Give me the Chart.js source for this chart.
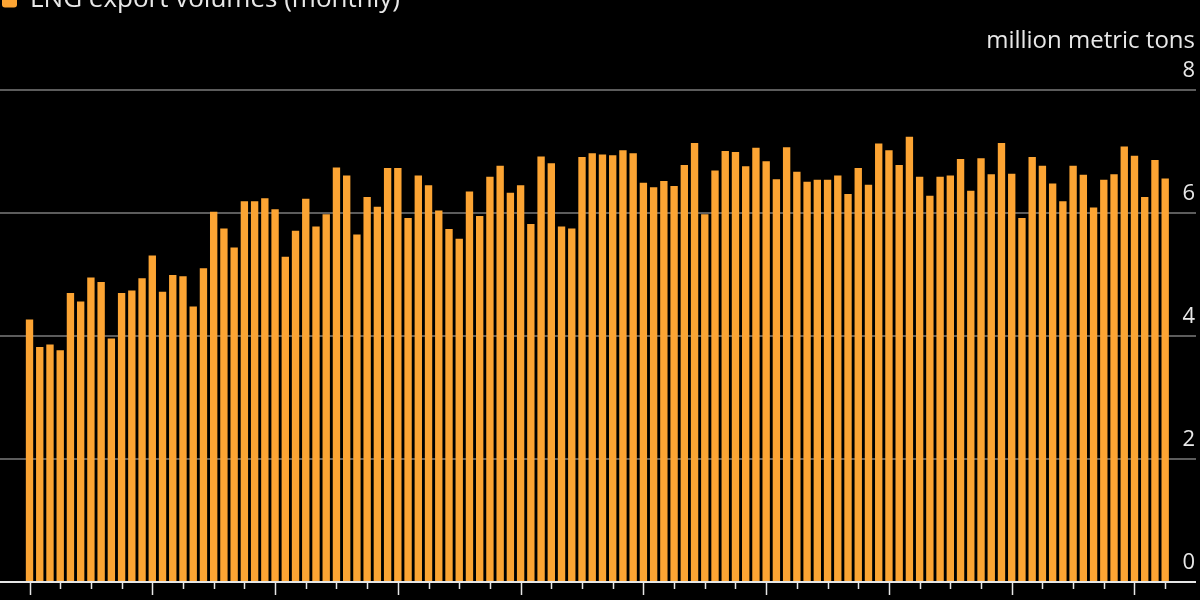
<!DOCTYPE html>
<html>
<head>
<meta charset="utf-8">
<script src="https://cdn.jsdelivr.net/npm/chart.js@4.4.1/dist/chart.umd.min.js"></script>
<style>
  html, body { margin: 0; padding: 0; background: #000; overflow: hidden; width: 1200px; height: 600px; }
  #wrap { position: absolute; left: 0; top: -15px; width: 1200px; height: 623px; }
</style>
</head>
<body>
<div id="wrap"><canvas id="c" width="1200" height="623"></canvas></div>
<script>
// LNG export volumes, million metric tons, monthly (112 months)
const volumes = [
  4.27, 3.82, 3.86, 3.77, 4.70, 4.56, 4.95, 4.88, 3.96, 4.70, 4.74, 4.94,
  5.31, 4.72, 4.99, 4.97, 4.48, 5.10, 6.02, 5.75, 5.44, 6.19, 6.19, 6.24,
  6.06, 5.29, 5.71, 6.23, 5.78, 5.98, 6.74, 6.61, 5.65, 6.26, 6.10, 6.73,
  6.73, 5.92, 6.61, 6.45, 6.04, 5.74, 5.58, 6.35, 5.95, 6.59, 6.77, 6.33,
  6.45, 5.82, 6.92, 6.81, 5.78, 5.75, 6.91, 6.97, 6.95, 6.94, 7.02, 6.97,
  6.49, 6.42, 6.52, 6.44, 6.78, 7.14, 5.98, 6.69, 7.01, 6.99, 6.76, 7.06,
  6.84, 6.55, 7.07, 6.67, 6.51, 6.54, 6.54, 6.61, 6.31, 6.73, 6.46, 7.13,
  7.02, 6.78, 7.24, 6.59, 6.28, 6.59, 6.61, 6.88, 6.36, 6.89, 6.63, 7.14,
  6.64, 5.92, 6.91, 6.77, 6.48, 6.19, 6.77, 6.62, 6.09, 6.54, 6.63, 7.08,
  6.93, 6.26, 6.86, 6.56
];
const months = volumes.map((_, i) => i + 1);
const yTicks = [0, 2, 4, 6, 8];
const seriesName = 'LNG export volumes (monthly)';
const unitLabel = 'million metric tons';
const quarterEvery = 3;
const yearEvery = 12;

const FONT = '"Open Sans", "Noto Sans", sans-serif';
const ORANGE = '#FCA433';

const decorPlugin = {
  id: 'decor',
  beforeDatasetsDraw(chart) {
    const ctx = chart.ctx, y = chart.scales.y;
    ctx.save();
    ctx.strokeStyle = '#5c5c5c';
    ctx.lineWidth = 2;
    yTicks.forEach(v => {
      if (v === 0) return;
      const py = Math.round(y.getPixelForValue(v));
      ctx.beginPath(); ctx.moveTo(0, py); ctx.lineTo(1196, py); ctx.stroke();
    });
    ctx.restore();
  },
  afterDatasetsDraw(chart) {
    const ctx = chart.ctx, x = chart.scales.x, y = chart.scales.y;
    const py = Math.round(y.getPixelForValue(0));
    ctx.save();
    ctx.strokeStyle = '#e6e6e6';
    ctx.lineWidth = 2;
    ctx.beginPath(); ctx.moveTo(0, py); ctx.lineTo(1196, py); ctx.stroke();
    ctx.lineWidth = 1.5;
    for (let i = 0; i < months.length; i += quarterEvery) {
      const px = Math.round(x.getPixelForValue(i)) + 0.5;
      const len = (i % yearEvery === 0) ? 13 : 7;
      ctx.beginPath(); ctx.moveTo(px, py); ctx.lineTo(px, py + len); ctx.stroke();
    }
    ctx.restore();
  }
};

new Chart(document.getElementById('c'), {
  type: 'bar',
  data: {
    labels: months,
    datasets: [{
      label: seriesName,
      data: volumes,
      backgroundColor: ORANGE,
      borderWidth: 0,
      barPercentage: 0.72,
      categoryPercentage: 1.0
    }]
  },
  options: {
    responsive: false,
    animation: false,
    devicePixelRatio: 1,
    layout: { padding: { top: 0, left: 0, right: 5, bottom: 26 } },
    plugins: {
      legend: {
        display: true,
        position: 'top',
        align: 'start',
        labels: {
          color: '#e8e8e8',
          font: { family: FONT, size: 26 },
          boxWidth: 15,
          boxHeight: 15,
          padding: 2,
          useBorderRadius: true,
          borderRadius: 3
        }
      },
      subtitle: {
        display: true,
        text: unitLabel,
        align: 'end',
        color: '#e8e8e8',
        font: { family: FONT, size: 24, weight: 'normal' },
        padding: { top: 3.6, bottom: 34.6 },
        weight: 500
      },
      title: { display: false },
      tooltip: { enabled: false }
    },
    scales: {
      x: {
        display: false,
        offset: true,
        grid: { display: false }
      },
      y: {
        position: 'right',
        min: 0,
        max: 8,
        afterBuildTicks: s => { s.ticks = yTicks.map(v => ({ value: v })); },
        afterFit: s => { s.width = 24.7; },
        grid: { display: false, drawTicks: false },
        border: { display: false },
        ticks: {
          color: '#e8e8e8',
          font: { family: FONT, size: 22 },
          padding: 12,
          crossAlign: 'far',
          labelOffset: -19
        }
      },
      yl: {
        position: 'left',
        min: 0,
        max: 8,
        afterFit: s => { s.width = 24.4; },
        grid: { display: false, drawTicks: false },
        border: { display: false },
        ticks: { display: false }
      }
    }
  },
  plugins: [decorPlugin]
});
</script>
</body>
</html>
